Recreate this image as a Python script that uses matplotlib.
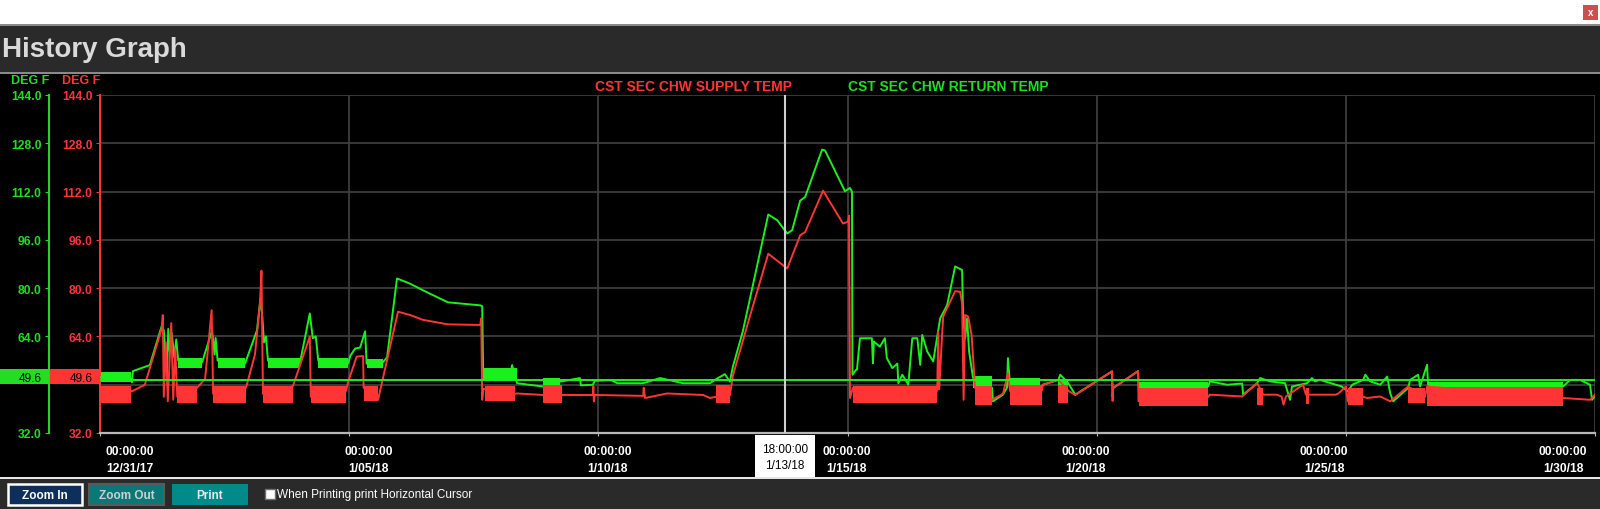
#! /usr/bin/env python3
# History graph: CST SEC CHW supply / return temperature, 12/31/17 - 1/30/18

import datetime as dt

import matplotlib
matplotlib.use('Agg')
import matplotlib.pyplot as plt
import matplotlib.transforms as mtransforms
from matplotlib.patches import Rectangle
from matplotlib.ticker import FuncFormatter

plt.rcParams['font.family'] = ['Liberation Sans', 'DejaVu Sans']
plt.rcParams['hatch.linewidth'] = 1.2

# ---- data ----
start = dt.datetime(2017, 12, 31)
cursor_day = 13.75      # 1/13/18 18:00
cursor_value = 49.6

x_tick_days = [0, 5, 10, 15, 20, 25, 30]
y_ticks = [32.0, 64.0, 80.0, 96.0, 112.0, 128.0, 144.0]
y_grid_extra = [48.0]

series_names = ['CST SEC CHW SUPPLY TEMP', 'CST SEC CHW RETURN TEMP']

# return temp (green), days since 12/31/17 00:00
return_days = [0.00, 0.62, 0.64, 0.66, 1.00, 1.24, 1.28, 1.31, 1.34, 1.37,
               1.40, 1.44, 1.49, 1.53, 1.57, 2.05, 2.25, 2.30, 2.32, 2.36,
               2.91, 3.15, 3.22, 3.26, 3.29, 3.33, 3.37, 4.01, 4.21, 4.27,
               4.33, 4.38, 4.98, 5.02, 5.12, 5.22, 5.32, 5.35, 5.68, 5.76,
               5.96, 6.22, 6.48, 6.98, 7.63, 7.67, 7.69, 8.23, 8.27, 8.31,
               8.37, 8.89, 9.23, 9.63, 9.65, 9.89, 9.93, 10.26, 10.38, 10.90,
               11.24, 11.70, 12.24, 12.38, 12.54, 12.64, 12.70, 12.90, 13.41, 13.59,
               13.79, 13.89, 14.05, 14.15, 14.49, 14.55, 14.95, 15.05, 15.09, 15.10,
               15.17, 15.19, 15.25, 15.49, 15.51, 15.53, 15.65, 15.75, 15.79, 15.90,
               16.00, 16.02, 16.10, 16.22, 16.30, 16.40, 16.46, 16.50, 16.60, 16.72,
               16.86, 17.00, 17.16, 17.30, 17.32, 17.36, 17.40, 17.44, 17.52, 17.90,
               17.92, 18.12, 18.20, 18.22, 18.26, 18.86, 18.92, 19.23, 19.27, 19.43,
               19.57, 20.31, 20.32, 20.33, 20.83, 20.85, 22.24, 22.27, 22.62, 22.92,
               22.94, 23.22, 23.28, 23.48, 23.78, 23.88, 23.92, 24.22, 24.32, 24.38,
               24.48, 24.92, 25.04, 25.13, 25.35, 25.39, 25.49, 25.69, 25.83, 25.89,
               25.95, 26.25, 26.29, 26.45, 26.49, 26.63, 26.65, 29.36, 29.50, 29.70,
               29.90, 29.94, 30.00]
return_temp = [50.5, 50.0, 48.8, 52.5, 54.5, 67.5, 66.0, 58.0, 50.0, 66.5,
               59.0, 65.0, 57.0, 63.0, 56.0, 55.5, 66.0, 58.0, 63.5, 56.0,
               55.0, 66.0, 76.6, 70.0, 62.0, 64.0, 56.0, 55.0, 71.6, 63.4,
               64.0, 56.0, 55.0, 57.5, 60.0, 60.3, 65.7, 55.0, 55.5, 57.0,
               83.2, 81.5, 79.3, 75.3, 74.3, 74.0, 51.5, 51.5, 54.5, 51.5,
               48.5, 47.4, 49.0, 50.2, 47.8, 48.0, 49.3, 49.5, 48.5, 48.5,
               50.2, 48.5, 48.5, 50.0, 51.5, 49.0, 54.0, 65.7, 104.4, 102.5,
               98.1, 99.2, 109.0, 110.2, 125.9, 125.6, 112.1, 113.2, 112.0, 51.3,
               52.9, 53.0, 63.4, 63.4, 55.1, 62.3, 60.6, 63.4, 56.8, 53.5,
               55.0, 48.5, 51.3, 48.0, 63.4, 63.4, 54.6, 64.5, 59.0, 55.7,
               70.0, 74.4, 87.2, 86.0, 71.1, 63.4, 70.0, 59.0, 50.2, 47.0,
               42.5, 44.7, 47.0, 56.8, 48.0, 45.8, 48.0, 49.6, 51.3, 48.5,
               44.7, 52.4, 44.0, 46.9, 52.5, 45.5, 47.5, 49.1, 48.0, 48.4,
               44.7, 48.5, 50.2, 49.1, 48.5, 43.0, 47.4, 48.5, 50.2, 49.1,
               49.6, 47.4, 45.8, 48.0, 49.6, 51.3, 49.1, 48.0, 50.7, 45.2,
               42.5, 46.9, 49.6, 51.3, 47.4, 54.6, 48.0, 47.4, 49.6, 49.6,
               48.0, 43.0, 44.2]

# supply temp (red)
supply_days = [0.00, 0.62, 0.64, 0.90, 1.24, 1.26, 1.28, 1.32, 1.36, 1.43,
               1.47, 1.51, 1.55, 1.95, 2.11, 2.24, 2.27, 2.93, 3.11, 3.21,
               3.24, 3.27, 3.87, 4.17, 4.21, 4.23, 4.94, 4.98, 5.15, 5.28,
               5.29, 5.58, 5.98, 6.22, 6.48, 6.98, 7.63, 7.65, 7.67, 7.69,
               8.33, 8.37, 8.89, 9.27, 9.89, 9.90, 9.91, 9.93, 10.90, 10.91,
               10.94, 11.38, 12.10, 12.24, 12.36, 12.64, 12.70, 13.04, 13.41, 13.79,
               14.05, 14.15, 14.51, 14.91, 15.01, 15.03, 15.05, 15.11, 16.80, 16.82,
               16.84, 16.90, 16.92, 17.16, 17.26, 17.30, 17.33, 17.36, 17.42, 17.49,
               17.56, 17.90, 18.12, 18.22, 18.26, 18.90, 18.92, 19.23, 19.43, 19.57,
               20.31, 20.32, 20.33, 20.83, 20.84, 22.24, 22.27, 22.92, 23.22, 23.34,
               23.61, 23.71, 23.75, 23.80, 24.14, 24.20, 24.80, 24.86, 25.00, 25.04,
               25.35, 25.43, 25.69, 25.89, 26.25, 26.59, 26.63, 29.36, 29.90, 30.00]
supply_temp = [46.5, 46.0, 45.8, 48.0, 66.7, 71.1, 44.0, 62.0, 42.5, 68.4,
               43.0, 60.0, 44.0, 47.0, 50.0, 72.7, 45.0, 47.0, 58.0, 75.0,
               85.8, 45.0, 47.5, 62.0, 64.0, 44.0, 46.0, 49.0, 57.3, 57.5,
               47.0, 43.0, 72.2, 71.1, 69.5, 68.0, 67.8, 70.0, 43.0, 46.6,
               45.0, 45.1, 44.6, 44.6, 44.6, 47.5, 42.5, 44.6, 44.3, 47.0,
               43.6, 45.1, 44.6, 43.6, 44.0, 44.5, 51.0, 70.6, 91.4, 86.5,
               97.5, 98.6, 112.3, 101.4, 102.0, 104.0, 43.6, 47.0, 46.0, 65.6,
               46.5, 65.0, 70.6, 79.0, 78.8, 75.0, 43.0, 71.1, 70.6, 64.5,
               46.9, 43.0, 45.0, 51.8, 46.0, 46.0, 48.0, 49.6, 46.0, 44.6,
               52.5, 42.6, 46.9, 52.5, 42.5, 44.0, 44.7, 44.1, 48.5, 44.7,
               44.7, 44.1, 41.4, 44.1, 48.0, 44.7, 44.7, 45.2, 47.4, 42.5,
               44.0, 43.6, 44.1, 42.5, 47.4, 44.0, 47.4, 43.6, 43.0, 44.7]

# stretches where the sensor chatters fast (first day, last day, low, high)
return_band_start = [0.00, 1.57, 2.36, 3.37, 4.38, 5.35, 7.69, 8.89, 17.52, 18.26, 19.23, 20.85, 26.65]
return_band_end = [0.62, 2.05, 2.91, 4.01, 4.98, 5.68, 8.37, 9.23, 17.90, 18.86, 19.43, 22.24, 29.36]
return_band_low = [48.8, 53.5, 53.5, 53.5, 53.5, 53.5, 49.5, 48.0, 46.9, 45.8, 48.0, 45.5, 45.0]
return_band_high = [52.2, 57.0, 57.0, 57.0, 57.0, 56.5, 53.5, 50.2, 50.8, 50.2, 49.6, 48.8, 48.8]

supply_band_start = [0.00, 1.55, 2.27, 3.27, 4.23, 5.29, 7.72, 8.89, 12.36, 15.11,
                     17.56, 18.26, 19.23, 20.84, 23.22, 24.20, 25.04, 26.25, 26.63]
supply_band_end = [0.62, 1.95, 2.93, 3.87, 4.94, 5.58, 8.33, 9.27, 12.64, 16.80,
                   17.90, 18.90, 19.43, 22.24, 23.34, 24.26, 25.35, 26.59, 29.36]
supply_band_low = [42.0, 42.0, 42.0, 42.0, 42.0, 42.5, 42.5, 42.0, 42.0, 42.0,
                   41.4, 41.4, 42.0, 40.9, 41.4, 41.5, 41.4, 41.9, 41.0]
supply_band_high = [47.5, 47.5, 47.5, 47.5, 47.5, 47.5, 47.5, 48.0, 48.0, 47.5,
                    47.5, 48.0, 48.0, 46.9, 46.9, 47.0, 46.9, 46.9, 47.4]

# ---- style ----
W, H = 1600, 510
GREEN = '#1cf01c'
GREEN_TXT = '#22dd22'
RED = '#ff3535'
BAR = '#2a2a2a'
GRID = '#3d3d3d'


def fx(px):
	return px / W


def fy(py):
	return 1 - py / H


def stamp(d):
	t = start + dt.timedelta(days=float(d))
	return "%s\n%d/%s" % (t.strftime('%H:%M:%S'), t.month, t.strftime('%d/%y'))


def chatter(ax, s, e, lo, hi, color, solid, z):
	# dense vertical spikes: a solid strip plus vertical hatching over the whole swing
	ax.fill_between([s, e], [lo, lo], [hi, hi], facecolor='none', edgecolor=color,
					hatch='||||||||||', lw=0, zorder=z)
	ax.fill_between([s, e], [hi - solid] * 2, [hi, hi], color=color, lw=0, zorder=z)


fig = plt.figure(figsize=(W / 100, H / 100), dpi=100, facecolor='black')

# window chrome
def rect(x0, y0, x1, y1, color, z=-5, **kw):
	fig.add_artist(Rectangle((fx(x0), fy(y1)), fx(x1) - fx(x0), fy(y0) - fy(y1),
							 transform=fig.transFigure, facecolor=color, zorder=z, **kw))

rect(0, 0, W, 25, 'white')
rect(0, 25, W, 26.5, '#8a8a8a')
rect(0, 26.5, W, 72.5, BAR)
rect(0, 72.5, W, 74.5, '#8a8a8a')
rect(0, 477.5, W, 479.5, '#e6e6e6')
rect(0, 479.5, W, H, BAR)
rect(1583, 6, 1598, 21, '#c9504f', lw=0)
fig.text(fx(1590.5), fy(13.5), 'x', color='white', fontsize=7, fontweight='bold', ha='center', va='center')
fig.text(fx(2), fy(50), 'History Graph', color='#dadada', fontsize=20, fontweight='bold', va='center')

# buttons
rect(8, 485, 82, 506, '#0e2f5c', z=1, edgecolor='white', lw=1.8)
fig.text(fx(45), fy(496), 'Zoom In', color='white', fontsize=8.5, fontweight='bold', ha='center', va='center')
rect(89, 485, 164, 506, '#0b7878', z=1, edgecolor='#5a5a5a', lw=1.5)
fig.text(fx(126.5), fy(496), 'Zoom Out', color='#cfcfcf', fontsize=8.5, fontweight='bold', ha='center', va='center')
rect(172, 485, 248, 506, '#008a8a', z=1, lw=0)
fig.text(fx(210), fy(496), 'Print', color='#e8e8e8', fontsize=8.5, fontweight='bold', ha='center', va='center')
rect(265, 490, 275, 500, 'white', z=1, edgecolor='#707070', lw=1)
fig.text(fx(277), fy(495.5), 'When Printing print Horizontal Cursor', color='white', fontsize=8.5,
		 family=['Liberation Sans Narrow', 'Liberation Sans'], va='center')

# ---- plot area ----
ax = fig.add_axes([fx(100), fy(434), fx(1595) - fx(100), fy(96) - fy(434)])
ax.set_facecolor('black')
ax.set_xlim(0, 30)
ax.set_ylim(32, 144)

for s, e, lo, hi in zip(return_band_start, return_band_end, return_band_low, return_band_high):
	chatter(ax, s, e, lo, hi, GREEN, 1.2, 2)
ax.plot(return_days, return_temp, color=GREEN, lw=1.4, zorder=3)
for s, e, lo, hi in zip(supply_band_start, supply_band_end, supply_band_low, supply_band_high):
	chatter(ax, s, e, lo, hi, RED, 2.5, 4)
ax.plot(supply_days, supply_temp, color=RED, lw=1.4, zorder=4)

# cursors
ax.axhline(cursor_value, color=GREEN, lw=1.4, zorder=6)
ax.axvline(cursor_day, color='#cfcfcf', lw=1.5, zorder=6)

# grid
ax.set_xticks(x_tick_days)
ax.set_yticks(y_ticks)
ax.set_yticks(y_grid_extra, minor=True)
ax.grid(True, which='both', color=GRID, lw=1.3, zorder=0)
ax.set_axisbelow(True)
for side in ['top', 'right']:
	ax.spines[side].set_visible(False)
ax.spines['left'].set_color(RED)
ax.spines['left'].set_linewidth(1.4)
ax.spines['bottom'].set_color('#b8b8b8')
ax.spines['bottom'].set_linewidth(1.6)

ax.xaxis.set_major_formatter(FuncFormatter(lambda d, pos: stamp(d)))
ax.tick_params(axis='x', colors='#b8b8b8', labelcolor='white', length=2.5, pad=6.5)
ax.tick_params(axis='y', which='major', colors=RED, length=3, pad=2.5)
ax.tick_params(axis='y', which='minor', length=0)
ax.yaxis.set_major_formatter(FuncFormatter(lambda v, pos: '%.1f' % v))
for lab in ax.get_xticklabels():
	lab.set_fontweight('bold')
	lab.set_fontsize(8.7)
	lab.set_linespacing(1.5)
for lab in ax.get_yticklabels():
	lab.set_fontweight('bold')
	lab.set_fontsize(8.7)

# the date labels are spread evenly between the two ends, not under the ticks
n = len(x_tick_days)
for i, tick in enumerate(ax.xaxis.get_major_ticks()):
	off = 30 - i * 62.0 / (n - 1)
	tick.label1.set_transform(tick.label1.get_transform() +
							  mtransforms.ScaledTranslation(off / 100, 0, fig.dpi_scale_trans))

# green (return) axis, further left
ax2 = ax.twinx()
ax2.set_ylim(ax.get_ylim())
ax2.spines['right'].set_visible(False)
ax2.spines['top'].set_visible(False)
ax2.spines['bottom'].set_visible(False)
ax2.spines['left'].set_visible(True)
ax2.spines['left'].set_position(('outward', 51 * 0.72))
ax2.spines['left'].set_color(GREEN_TXT)
ax2.spines['left'].set_linewidth(1.4)
ax2.yaxis.set_ticks_position('left')
ax2.set_yticks(y_ticks)
ax2.yaxis.set_major_formatter(FuncFormatter(lambda v, pos: '%.1f' % v))
ax2.tick_params(axis='y', colors=GREEN_TXT, length=3, pad=2.5, left=True, right=False,
				labelleft=True, labelright=False)
for lab in ax2.get_yticklabels():
	lab.set_fontweight('bold')
	lab.set_fontsize(8.7)

# units
fig.text(fx(30.5), fy(81), 'DEG F', color=GREEN_TXT, fontsize=9, fontweight='bold', ha='center', va='center')
fig.text(fx(81), fy(81), 'DEG F', color=RED, fontsize=9, fontweight='bold', ha='center', va='center')

# legend
fig.text(fx(595), fy(87), series_names[0], color=RED, fontsize=10, fontweight='bold', va='center')
fig.text(fx(848), fy(87), series_names[1], color=GREEN_TXT, fontsize=10, fontweight='bold', va='center')

# cursor value boxes on the y axes
ytrans = mtransforms.blended_transform_factory(fig.transFigure, ax.transData)
for x0, x1, col in [(0, 49, GREEN_TXT), (50, 100, RED)]:
	fig.add_artist(Rectangle((fx(x0), cursor_value - 1.5), fx(x1) - fx(x0), 5.0,
							 transform=ytrans, facecolor=col, lw=0, zorder=3))
	fig.text(fx(x1 - 7), cursor_value + 0.6, '%.1f' % cursor_value, transform=ytrans,
			 color='black', fontsize=8.5, ha='right', va='center', zorder=4)

# cursor time box under the axis
xtrans = mtransforms.blended_transform_factory(ax.transData, fig.transFigure)
half = 30.0 / 49.83
fig.add_artist(Rectangle((cursor_day - half, fy(477.5)), 2 * half, fy(435.5) - fy(477.5),
						 transform=xtrans, facecolor='white', lw=0, zorder=3))
fig.text(cursor_day, fy(458), stamp(cursor_day), transform=xtrans, color='black', fontsize=8.5,
		 ha='center', va='center', linespacing=1.55, zorder=4)

fig.savefig('out.png', dpi=100, facecolor=fig.get_facecolor())
